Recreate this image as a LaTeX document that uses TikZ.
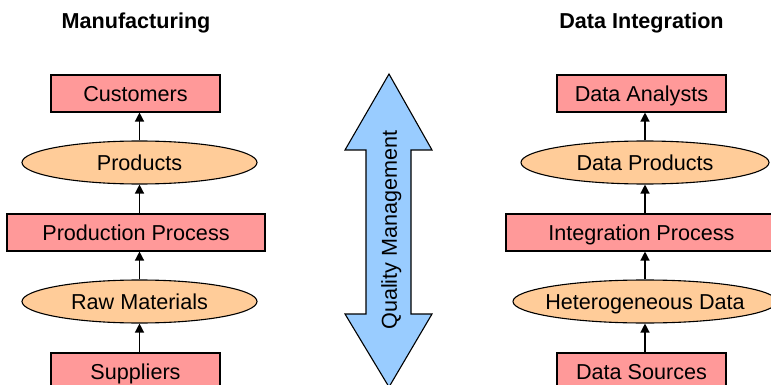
\documentclass[tikz,border=0pt]{standalone}
\usepackage{fontspec}
\setmainfont{Liberation Sans}
\usetikzlibrary{shapes.geometric,arrows.meta}
\definecolor{boxpink}{HTML}{FF9999}
\definecolor{ovalorange}{HTML}{FFCC99}
\definecolor{qmblue}{HTML}{99CCFF}
\begin{document}
\begin{tikzpicture}[x=1pt,y=-1pt,
  every node/.style={font=\fontsize{21.6}{26}\selectfont, inner sep=0pt},
  capcentred/.style={text height=15.5pt, text depth=0pt},
  actor/.style={capcentred, draw=black, line width=1.1pt, fill=boxpink,
    rectangle, minimum height=37pt},
  goods/.style={capcentred, draw=black, line width=1.1pt, fill=ovalorange,
    ellipse, inner xsep=-30pt, minimum height=43pt},
  flow/.style={draw=black, line width=1.3pt, -{Triangle[width=9pt,length=9pt]}},
  heading/.style={font=\bfseries\fontsize{21.6}{26}\selectfont, anchor=base}
]
\useasboundingbox (0,0) rectangle (771,385);

% column headings
\node[heading] (mtitle) at (136,29) {Manufacturing};
\node[heading] (dtitle) at (641.5,28.5) {Data Integration};

% manufacturing chain
\node[actor, minimum width=169pt] (cust) at (135.5,93.5) {Customers};
\node[goods, minimum width=235pt] (prod) at (139.5,162.5) {Products};
\node[actor, minimum width=258pt] (proc) at (136,232.5) {Production Process};
\node[goods, minimum width=235pt] (raw)  at (139.5,301.5) {Raw Materials};
\node[actor, minimum width=169pt] (supp) at (135.5,371.5) {Suppliers};

\draw[flow] (raw.south |- supp.north) -- (raw.south);
\draw[flow] (raw.north) -- (raw.north |- proc.south);
\draw[flow] (prod.south |- proc.north) -- (prod.south);
\draw[flow] (prod.north) -- (prod.north |- cust.south);

% data integration chain
\node[actor, minimum width=169pt] (anal)   at (641.5,93.5) {Data Analysts};
\node[goods, minimum width=248pt] (dprod)  at (645,162.5) {Data Products};
\node[actor, minimum width=271pt] (integ)  at (641.5,232.5) {Integration Process};
\node[goods, minimum width=264pt] (hetero) at (645,301.5) {Heterogeneous Data};
\node[actor, minimum width=169pt] (src)    at (641.5,371.5) {Data Sources};

\draw[flow] (hetero.south |- src.north) -- (hetero.south);
\draw[flow] (hetero.north) -- (hetero.north |- integ.south);
\draw[flow] (dprod.south |- integ.north) -- (dprod.south);
\draw[flow] (dprod.north) -- (dprod.north |- anal.south);

% quality management double arrow
\draw[line width=1.1pt, fill=qmblue, line join=miter]
  (389,74) -- (432,150) -- (411,150) -- (411,314) -- (432,314) -- (389,387)
  -- (345,314) -- (366,314) -- (366,150) -- (345,150) -- cycle;
\node[capcentred, rotate=90] (qm) at (389,230) {Quality Management};
\end{tikzpicture}
\end{document}
